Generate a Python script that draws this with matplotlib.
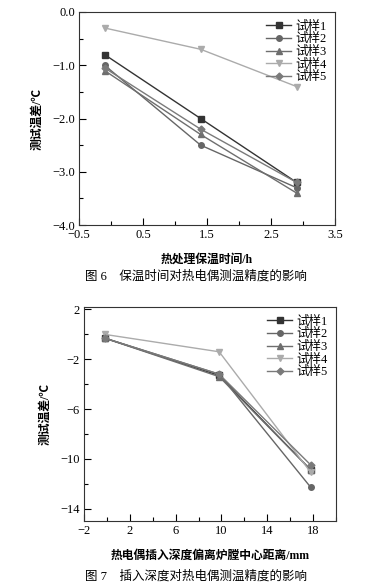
import numpy as np
import matplotlib
matplotlib.use("Agg")
from matplotlib import pyplot as plt
from matplotlib.ticker import MultipleLocator, FuncFormatter

plt.rcParams["font.family"] = ["Liberation Serif", "Noto Sans CJK SC"]
plt.rcParams["axes.unicode_minus"] = True

# fig 6: holding time
hold_time = [-0.1, 1.4, 2.9]
hold_s1 = [-0.8, -2.0, -3.2]
hold_s2 = [-1.0, -2.5, -3.3]
hold_s3 = [-1.1, -2.3, -3.4]
hold_s4 = [-0.3, -0.7, -1.4]
hold_s5 = [-1.05, -2.2, -3.2]

# fig 7: insertion depth offset
depth = [-0.2, 9.8, 17.8]
depth_s1 = [-0.3, -3.3, -10.9]
depth_s2 = [-0.3, -3.2, -12.3]
depth_s3 = [-0.3, -3.4, -10.9]
depth_s4 = [0.0, -1.4, -11.1]
depth_s5 = [-0.3, -3.2, -10.5]

labels = ["试样1", "试样2", "试样3", "试样4", "试样5"]
markers = ["s", "o", "^", "v", "D"]
colors = ["#333333", "#666666", "#6e6e6e", "#ababab", "#7a7a7a"]
msizes = [4, 4, 4, 4, 3.5]


def one_decimal(v, pos):
    return f"{v:.1f}".replace("-", "\u2212")


def style_axes(ax):
    ax.tick_params(which="both", direction="in", top=False, right=False,
                   labelsize=9, pad=3)
    ax.tick_params(which="major", length=5, width=0.8)
    ax.tick_params(which="minor", length=3, width=0.8)
    for sp in ax.spines.values():
        sp.set_linewidth(0.8)
        sp.set_color("#333333")


def draw(ax, x, series):
    for ys, lab, m, c, ms in zip(series, labels, markers, colors, msizes):
        ax.plot(x, ys, color=c, marker=m, markersize=ms, linewidth=1.0,
                label=lab)
    leg = ax.legend(loc="upper right", frameon=False, fontsize=9,
                    handlelength=2.0, handletextpad=0.3, labelspacing=0.05,
                    borderaxespad=0.3)
    return leg


fig = plt.figure(figsize=(3.92, 5.88), dpi=100)

# ---- top chart ----
ax1 = fig.add_axes([79 / 392, 1 - 225 / 588, 256 / 392, 213 / 588])
draw(ax1, hold_time, [hold_s1, hold_s2, hold_s3, hold_s4, hold_s5])
ax1.set_xlim(-0.5, 3.5)
ax1.set_ylim(-4.0, 0.0)
ax1.set_xticks(np.arange(-0.5, 3.6, 1.0))
ax1.xaxis.set_minor_locator(MultipleLocator(0.5))
ax1.yaxis.set_major_locator(MultipleLocator(1.0))
ax1.yaxis.set_minor_locator(MultipleLocator(0.5))
ax1.xaxis.set_major_formatter(FuncFormatter(one_decimal))
ax1.yaxis.set_major_formatter(FuncFormatter(one_decimal))
style_axes(ax1)
ax1.set_xlabel("热处理保温时间/h", fontsize=8.5, fontweight="bold", labelpad=9)
ax1.set_ylabel("测试温差/℃", fontsize=8.5, fontweight="bold", labelpad=6)
fig.text(0.5, 1 - 276 / 588, "图 6　保温时间对热电偶测温精度的影响",
         ha="center", va="center", fontsize=9)

# ---- bottom chart ----
ax2 = fig.add_axes([84 / 392, 1 - 521 / 588, 252 / 392, 214 / 588])
draw(ax2, depth, [depth_s1, depth_s2, depth_s3, depth_s4, depth_s5])
ax2.set_xlim(-2, 20)
ax2.set_ylim(-15, 2.2)
ax2.set_xticks([-2, 2, 6, 10, 14, 18])
ax2.xaxis.set_minor_locator(MultipleLocator(2))
ax2.set_yticks([2, -2, -6, -10, -14])
ax2.yaxis.set_minor_locator(MultipleLocator(2))
style_axes(ax2)
ax2.set_xlabel("热电偶插入深度偏离炉膛中心距离/mm", fontsize=8.5,
               fontweight="bold", labelpad=9)
ax2.set_ylabel("测试温差/℃", fontsize=8.5, fontweight="bold", labelpad=6)
fig.text(0.5, 1 - 576 / 588, "图 7　插入深度对热电偶测温精度的影响",
         ha="center", va="center", fontsize=9)

fig.savefig("out.png", dpi=100)
